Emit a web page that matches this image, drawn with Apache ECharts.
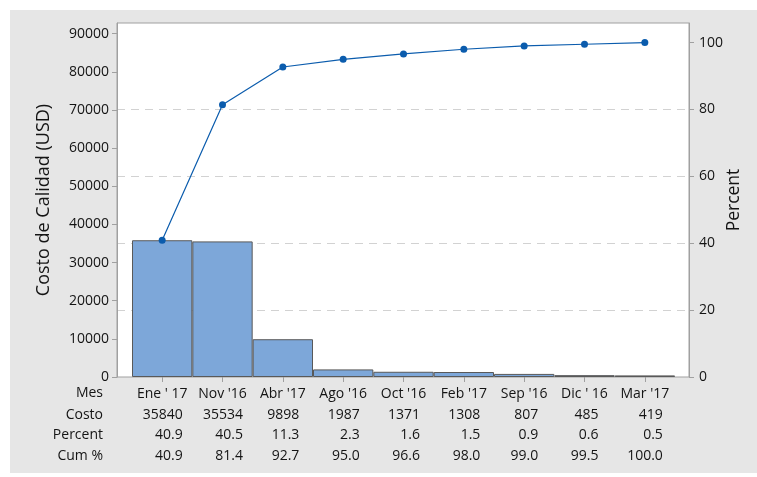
<!DOCTYPE html>
<html>
<head>
<meta charset="utf-8">
<script src="https://cdn.jsdelivr.net/npm/echarts@6/dist/echarts.min.js"></script>
<style>
  html, body { margin: 0; padding: 0; background: #ffffff; }
  #chart { width: 757px; height: 477px; }
</style>
</head>
<body>
<div id="chart"></div>
<script>
// Pareto data: monthly quality cost, sorted by cost
const categories = ["Ene ' 17", "Nov '16", "Abr '17", "Ago '16", "Oct '16", "Feb '17", "Sep '16", "Dic ' 16", "Mar '17"];
const costo = [35840, 35534, 9898, 1987, 1371, 1308, 807, 485, 419];
const percent = [40.9, 40.5, 11.3, 2.3, 1.6, 1.5, 0.9, 0.6, 0.5];
const cumPercent = [40.9, 81.4, 92.7, 95.0, 96.6, 98.0, 99.0, 99.5, 100.0];
const costTicks = [0, 10000, 20000, 30000, 40000, 50000, 60000, 70000, 80000, 90000];
const percentTicks = [0, 20, 40, 60, 80, 100];
const rowLabels = ['Mes', 'Costo', 'Percent', 'Cum %'];

const FONT = '"Open Sans", "Noto Sans", sans-serif';
const TEXT = '#141414';
const AXIS = '#a0a0a0';
const FS = 14;

// both vertical scales share the same top: 100 % equals the total cost
const total = costo.reduce((a, b) => a + b, 0);
const pctMax = 105.85;
const costMax = total * pctMax / 100;

// column widths for the right-aligned table cells, one block per category
const ctx = document.createElement('canvas').getContext('2d');
ctx.font = FS + 'px ' + FONT;
const rich = {};
categories.forEach((c, i) => {
  const cells = [String(costo[i]), percent[i].toFixed(1), cumPercent[i].toFixed(1)];
  const w = Math.ceil(Math.max(...cells.map(s => ctx.measureText(s).width)));
  rich['c' + i] = { width: w, align: 'right', lineHeight: 20.5, fontSize: FS, fontFamily: FONT, color: TEXT };
});

const chart = echarts.init(document.getElementById('chart'), null, { renderer: 'canvas' });

chart.setOption({
  animation: false,
  backgroundColor: '#e6e6e6',
  textStyle: { fontFamily: FONT, color: TEXT },
  grid: [
    { left: 117, top: 23, width: 572, height: 354, show: true, backgroundColor: '#ffffff', borderColor: AXIS, borderWidth: 1 },
    { left: 132, top: 23, width: 543, height: 354 }
  ],
  xAxis: [
    { gridIndex: 0, type: 'value', show: false },
    {
      gridIndex: 1, type: 'category', data: categories, position: 'bottom',
      axisLine: { show: false },
      axisTick: { show: true, alignWithLabel: true, length: 5, lineStyle: { color: AXIS } },
      axisLabel: { interval: 0, margin: 9, fontSize: FS, lineHeight: 16, color: TEXT, fontFamily: FONT }
    },
    {
      gridIndex: 1, type: 'category', data: categories, position: 'bottom',
      axisLine: { show: false }, axisTick: { show: false },
      axisLabel: {
        interval: 0, margin: 27.75, rich: rich,
        formatter: (v, i) => ['{c' + i + '|' + costo[i] + '}', '{c' + i + '|' + percent[i].toFixed(1) + '}', '{c' + i + '|' + cumPercent[i].toFixed(1) + '}'].join('\n')
      }
    }
  ],
  yAxis: [
    {
      gridIndex: 0, type: 'value', position: 'left', min: 0, max: costMax, interval: 10000,
      name: 'Costo de Calidad (USD)', nameLocation: 'middle', nameGap: 64, nameRotate: 90,
      nameMoveOverlap: false,
      nameTextStyle: { fontSize: 18, color: TEXT, fontFamily: FONT },
      axisLine: { show: true, lineStyle: { color: AXIS } },
      axisTick: { show: true, length: 5, lineStyle: { color: AXIS }, customValues: costTicks },
      axisLabel: { margin: 8, fontSize: FS, color: TEXT, customValues: costTicks, formatter: v => String(v) },
      splitLine: { show: false }
    },
    {
      gridIndex: 0, type: 'value', position: 'right', min: 0, max: pctMax, interval: 20,
      name: 'Percent', nameLocation: 'middle', nameGap: 36, nameRotate: 90,
      nameMoveOverlap: false,
      nameTextStyle: { fontSize: 17.5, color: TEXT, fontFamily: FONT },
      axisLine: { show: true, lineStyle: { color: AXIS } },
      axisTick: { show: true, length: 5, lineStyle: { color: AXIS }, customValues: percentTicks },
      axisLabel: { margin: 10, fontSize: FS, color: TEXT, customValues: percentTicks },
      splitLine: { show: true, showMinLine: false, showMaxLine: false, lineStyle: { color: '#d2d2d2', type: [8, 6], width: 1 } }
    },
    { gridIndex: 1, type: 'value', min: 0, max: costMax, show: false },
    { gridIndex: 1, type: 'value', min: 0, max: pctMax, show: false }
  ],
  series: [
    {
      name: 'Costo', type: 'bar', xAxisIndex: 1, yAxisIndex: 2, data: costo,
      barCategoryGap: '0%',
      itemStyle: { color: '#7da7d9', borderColor: '#595959', borderWidth: 1 }
    },
    {
      name: 'Cum %', type: 'line', xAxisIndex: 1, yAxisIndex: 3, data: cumPercent,
      symbol: 'circle', symbolSize: 7,
      lineStyle: { color: '#0b5cad', width: 1.2 },
      itemStyle: { color: '#0b5cad' }
    }
  ],
  graphic: [
    { type: 'rect', shape: { x: 0, y: 0, width: 757, height: 10 }, style: { fill: '#ffffff' }, silent: true },
    { type: 'rect', shape: { x: 0, y: 0, width: 10, height: 477 }, style: { fill: '#ffffff' }, silent: true },
    { type: 'rect', shape: { x: 0, y: 473, width: 757, height: 4 }, style: { fill: '#ffffff' }, silent: true }
  ].concat(rowLabels.map((t, k) => ({
    type: 'text', x: 103, y: [393, 415, 435.5, 456][k], silent: true,
    style: { text: t, fill: TEXT, font: FS + 'px ' + FONT, textAlign: 'right', textVerticalAlign: 'middle' }
  })))
});
</script>
</body>
</html>
